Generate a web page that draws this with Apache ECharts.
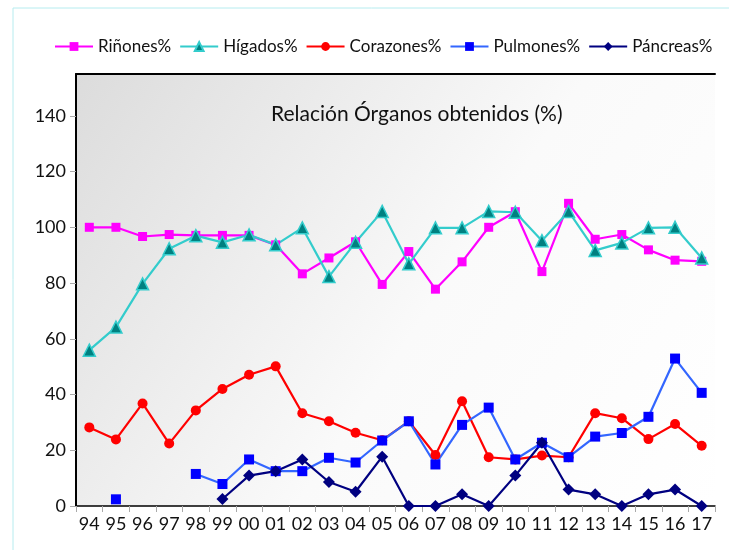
<!DOCTYPE html>
<html>
<head>
<meta charset="utf-8">
<script src="https://cdn.jsdelivr.net/npm/echarts@6/dist/echarts.min.js"></script>
<style>
  html, body { margin: 0; padding: 0; background: #fff; }
  #main { width: 729px; height: 550px; }
</style>
</head>
<body>
<div id="main"></div>
<script>
var years = ['94', '95', '96', '97', '98', '99', '00', '01', '02', '03', '04', '05',
             '06', '07', '08', '09', '10', '11', '12', '13', '14', '15', '16', '17'];

var rinones = [100, 100, 96.7, 97.4, 97.1, 97.1, 97.1, 93.7, 83.3, 89, 94.8, 79.5,
               91.3, 77.8, 87.6, 100, 105.6, 84.1, 108.6, 95.7, 97.4, 91.9, 88.2, 87.8];
var higados = [55.9, 64.2, 79.7, 92.3, 97, 94.6, 97.3, 93.7, 99.8, 82.3, 94.6, 105.7,
               86.9, 99.8, 99.8, 105.7, 105.4, 95.2, 105.7, 91.7, 94.4, 99.8, 100, 89];
var corazones = [28.2, 23.9, 36.8, 22.4, 34.3, 42, 47.1, 50.1, 33.3, 30.4, 26.3, 23.6,
                 30.4, 18.3, 37.6, 17.5, 16.7, 18.1, 17.5, 33.3, 31.5, 24, 29.4, 21.6];
var pulmones = [null, 2.4, null, null, 11.5, 7.9, 16.7, 12.5, 12.5, 17.3, 15.6, 23.5,
                30.4, 14.9, 29.1, 35.3, 16.7, 22.7, 17.5, 24.9, 26.2, 32, 52.9, 40.6];
var pancreas = [null, null, null, null, null, 2.5, 10.9, 12.5, 16.7, 8.6, 5.1, 17.7,
                0, 0, 4.2, 0, 10.9, 22.7, 5.9, 4.2, 0, 4.2, 5.9, 0];

var font = 'Lato';

function makeSeries(name, data, lineColor, symbol, size, fill, border) {
    return {
        name: name,
        type: 'line',
        data: data,
        symbol: symbol,
        symbolSize: size,
        showAllSymbol: true,
        connectNulls: false,
        lineStyle: { color: lineColor, width: 2.2 },
        itemStyle: { color: fill, borderColor: border || fill, borderWidth: border ? 1.5 : 0 },
        emphasis: { disabled: true },
        z: 3
    };
}

var chart = echarts.init(document.getElementById('main'));

var option = {
    animation: false,
    textStyle: { fontFamily: font },
    title: {
        text: 'Relación Órganos obtenidos (%)',
        left: 266,
        top: 99,
        textStyle: { fontFamily: font, fontSize: 21, fontWeight: 'normal', color: '#111' }
    },
    legend: {
        left: 49,
        top: 33,
        itemWidth: 38,
        itemHeight: 11,
        itemGap: 8,
        textStyle: { fontFamily: font, fontSize: 17, color: '#111' },
        data: ['Riñones%', 'Hígados%', 'Corazones%', 'Pulmones%', 'Páncreas%']
    },
    graphic: [{
        type: 'rect',
        shape: { x: 13, y: 8, width: 800, height: 600 },
        style: { fill: 'none', stroke: '#b6ecef', lineWidth: 1 },
        silent: true,
        z: -1
    }],
    grid: {
        left: 76,
        top: 74,
        right: 14,
        bottom: 44,
        show: true,
        borderWidth: 0,
        backgroundColor: {
            type: 'linear', x: 0, y: 0, x2: 1, y2: 1,
            colorStops: [
                { offset: 0, color: '#dcdcdc' },
                { offset: 0.55, color: '#fafafa' },
                { offset: 1, color: '#ffffff' }
            ]
        }
    },
    xAxis: [{
        type: 'category',
        data: years,
        boundaryGap: true,
        axisLine: { lineStyle: { color: '#000', width: 1.5 } },
        axisTick: { show: true, length: 6, lineStyle: { color: '#aaa' } },
        axisLabel: { fontFamily: font, fontSize: 18, color: '#111', margin: 9, interval: 0 },
        splitLine: { show: false }
    }, {
        type: 'category',
        data: years,
        position: 'top',
        axisLine: { lineStyle: { color: '#000', width: 2 } },
        axisTick: { show: false },
        axisLabel: { show: false }
    }],
    yAxis: {
        type: 'value',
        min: 0,
        max: 155,
        interval: 20,
        axisLine: { show: true, lineStyle: { color: '#000', width: 2 } },
        axisTick: { show: true, length: 6, lineStyle: { color: '#aaa' } },
        axisLabel: {
            fontFamily: font, fontSize: 18, color: '#111', margin: 10,
            showMaxLabel: false
        },
        splitLine: { show: false }
    },
    series: [
        makeSeries('Riñones%', rinones, '#ff00ff', 'rect', 9, '#ff00ff'),
        makeSeries('Hígados%', higados, '#33cccc', 'triangle', 12, '#008080', '#33cccc'),
        makeSeries('Corazones%', corazones, '#ff0000', 'circle', 10, '#ff0000'),
        makeSeries('Pulmones%', pulmones, '#3366ff', 'rect', 10, '#0000ff'),
        makeSeries('Páncreas%', pancreas, '#000080', 'diamond', 12, '#000080')
    ]
};

chart.setOption(option);
</script>
</body>
</html>
